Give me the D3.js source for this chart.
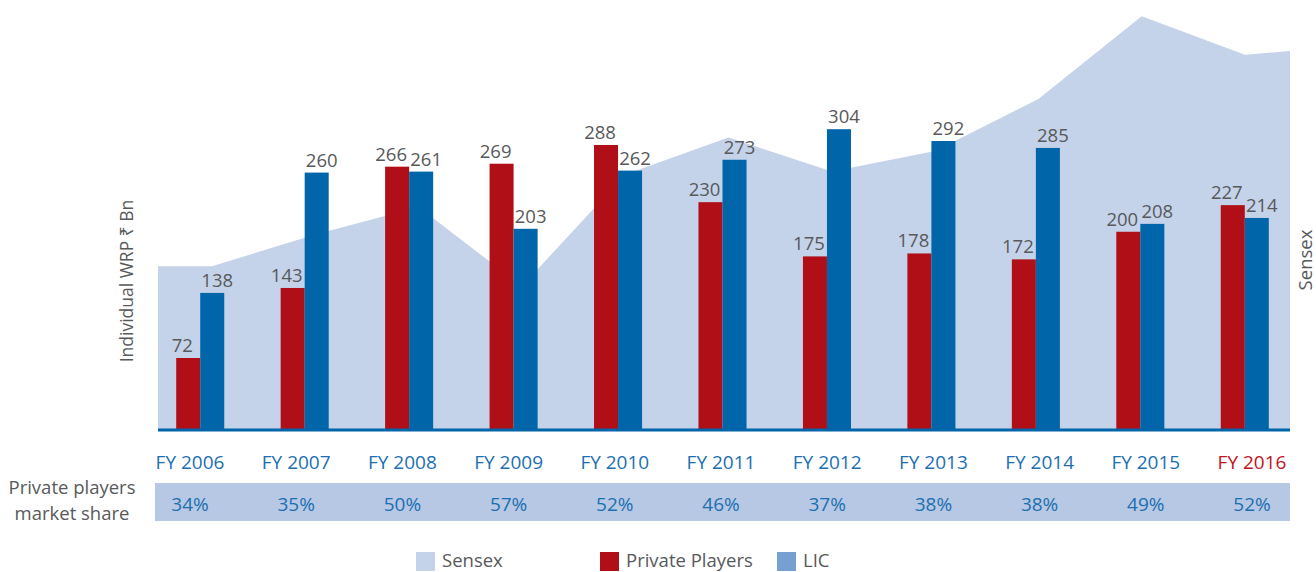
<!DOCTYPE html>
<html>
<head>
<meta charset="utf-8">
<script src="https://cdn.jsdelivr.net/npm/d3@7"></script>
<style>
  html, body { margin: 0; padding: 0; background: #fff; }
  svg { display: block; font-family: "Open Sans", "Noto Sans", sans-serif; }
</style>
</head>
<body>
<svg id="chart" width="1316" height="572"></svg>
<script>
// ---- data ----
const years = ["FY 2006","FY 2007","FY 2008","FY 2009","FY 2010","FY 2011","FY 2012","FY 2013","FY 2014","FY 2015","FY 2016"];
const privatePlayers = [72, 143, 266, 269, 288, 230, 175, 178, 172, 200, 227];
const lic = [138, 260, 261, 203, 262, 273, 304, 292, 285, 208, 214];
const sensex = [11000, 13150, 15000, 9650, 17200, 19700, 17400, 18800, 22300, 27900, 25300];
const sensexEnd = 25550;
const marketShare = ["34%","35%","50%","57%","52%","46%","37%","38%","38%","49%","52%"];
const seriesNames = ["Private Players", "LIC"];

// ---- layout ----
const W = 1316, H = 572;
const plotLeft = 158, plotRight = 1290, baseY = 429;
const colRed = "#b00f18", colBlue = "#0065a9", colArea = "#c4d3e9", colBand = "#b7c8e4";
const colText = "#58595b", colLabel = "#1c6fb1";

const svg = d3.select("#chart");

const x0 = d3.scaleBand().domain(years).range([148, 1297]).paddingInner(0.54).paddingOuter(0.27);
const x1 = d3.scaleBand().domain(seriesNames).range([0, x0.bandwidth()]);
const yBar = d3.scaleLinear().domain([0, 435]).range([baseY, 0]);

const xs = d3.scalePoint().domain(years).range([212, 1245]);
const ys = d3.scaleLinear().domain([0, 29000]).range([baseY, 0]);

const xt = d3.scalePoint().domain(years).range([190, 1252]);

// ---- sensex area ----
const areaPts = [{x: plotLeft, v: sensex[0]}]
  .concat(years.map((y, i) => ({x: xs(y), v: sensex[i]})))
  .concat([{x: plotRight, v: sensexEnd}]);
svg.append("path")
  .datum(areaPts)
  .attr("fill", colArea)
  .attr("d", d3.area().x(d => d.x).y0(baseY + 1).y1(d => ys(d.v)));

// ---- bars ----
const rows = years.map((y, i) => ({year: y, vals: [
  {name: "Private Players", v: privatePlayers[i], c: colRed},
  {name: "LIC", v: lic[i], c: colBlue}
]}));
const g = svg.selectAll("g.grp").data(rows).enter().append("g")
  .attr("class", "grp").attr("transform", d => `translate(${x0(d.year)},0)`);
g.selectAll("rect").data(d => d.vals).enter().append("rect")
  .attr("x", d => x1(d.name))
  .attr("width", x1.bandwidth())
  .attr("y", d => yBar(d.v))
  .attr("height", d => baseY - yBar(d.v))
  .attr("fill", d => d.c);
g.selectAll("text").data(d => d.vals).enter().append("text")
  .attr("x", d => x1(d.name) + x1.bandwidth() / 2 + (d.name === "LIC" ? 5 : -6))
  .attr("y", d => yBar(d.v) - 6)
  .attr("text-anchor", "middle")
  .attr("fill", colText)
  .attr("font-size", 18.5)
  .text(d => d.v);

// ---- axis line ----
const xAxis = d3.axisBottom(x0).tickSize(0).tickFormat("");
const ax = svg.append("g").attr("transform", `translate(0,430)`).call(xAxis);
ax.select(".domain").remove();
svg.append("line")
  .attr("x1", plotLeft).attr("x2", plotRight)
  .attr("y1", 430).attr("y2", 430)
  .attr("stroke", colBlue).attr("stroke-width", 3);

// ---- category labels ----
svg.selectAll("text.cat").data(years).enter().append("text")
  .attr("class", "cat")
  .attr("x", d => xt(d))
  .attr("y", 469)
  .attr("text-anchor", "middle")
  .attr("font-size", 19)
  .attr("fill", (d, i) => i === years.length - 1 ? "#c0141d" : colLabel)
  .text(d => d);

// ---- market share band ----
svg.append("rect")
  .attr("x", 155).attr("y", 483)
  .attr("width", plotRight - 155).attr("height", 38)
  .attr("fill", colBand);
svg.selectAll("text.share").data(marketShare).enter().append("text")
  .attr("class", "share")
  .attr("x", (d, i) => xt(years[i]))
  .attr("y", 510.5)
  .attr("text-anchor", "middle")
  .attr("font-size", 19)
  .attr("fill", colLabel)
  .text(d => d);

svg.append("text").attr("x", 72).attr("y", 494).attr("text-anchor", "middle")
  .attr("font-size", 18.5).attr("fill", colText).text("Private players");
svg.append("text").attr("x", 72).attr("y", 520).attr("text-anchor", "middle")
  .attr("font-size", 18.5).attr("fill", colText).text("market share");

// ---- axis titles ----
svg.append("text")
  .attr("transform", "translate(133,281) rotate(-90)")
  .attr("text-anchor", "middle")
  .attr("font-size", 17.5).attr("fill", colText)
  .text("Individual WRP ₹ Bn");
svg.append("text")
  .attr("transform", "translate(1312,260) rotate(-90)")
  .attr("text-anchor", "middle")
  .attr("font-size", 18.5).attr("fill", colText)
  .text("Sensex");

// ---- legend ----
const legend = [
  {name: "Sensex", c: "#c4d3ea", x: 416},
  {name: "Private Players", c: "#b00f18", x: 600},
  {name: "LIC", c: "#76a0d0", x: 777}
];
const lg = svg.selectAll("g.leg").data(legend).enter().append("g").attr("class", "leg")
  .attr("transform", d => `translate(${d.x},552)`);
lg.append("rect").attr("width", 19).attr("height", 19).attr("fill", d => d.c);
lg.append("text").attr("x", 26).attr("y", 14.5).attr("font-size", 18.5)
  .attr("fill", colText).text(d => d.name);
</script>
</body>
</html>
